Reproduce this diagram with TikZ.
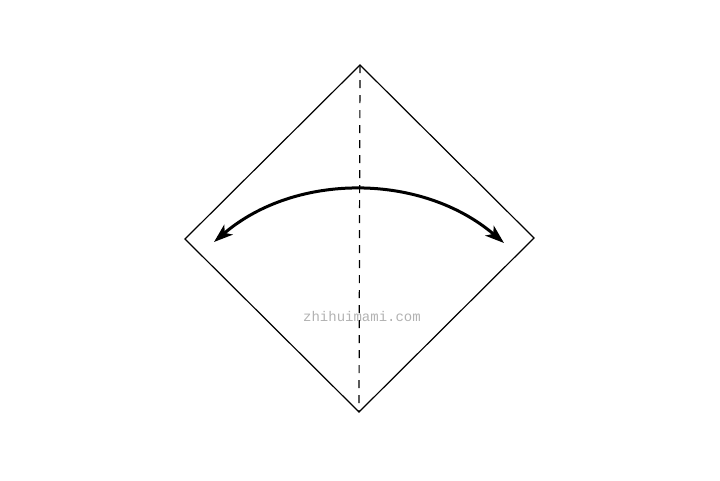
\documentclass[tikz,border=0pt]{standalone}
\usepackage{fontspec}
\newfontfamily\markfont{Liberation Mono}
\usetikzlibrary{arrows.meta}
\tikzset{
    paper/.style = {
        draw,
        line width = 1.2pt,
        line join = miter
    },
    valley/.style = {
        draw,
        line width = 1.2pt,
        dash pattern = on 8pt off 7pt
    },
    turn/.style = {
        {Stealth[length=19pt,width=13pt,inset=5pt]}-{Stealth[length=19pt,width=13pt,inset=5pt]},
        line width = 3pt
    },
    watermark/.style = {
        text = black!30,
        font = \markfont\fontsize{14}{16}\selectfont
    }
}
\begin{document}
\begin{tikzpicture}[x=1pt,y=-1pt]
    \useasboundingbox (0,0) rectangle (720,480);
    % corners of the square sheet
    \coordinate (top)    at (360,65);
    \coordinate (right)  at (534,238);
    \coordinate (bottom) at (359,412);
    \coordinate (left)   at (185,239);
    \draw[paper] (top) -- (right) -- (bottom) -- (left) -- cycle;
    % fold line
    \draw[valley] (top) -- (bottom);
    % fold over and back
    \coordinate (from) at (214,242);
    \coordinate (to)   at (504,243);
    \draw[turn] (from) .. controls (296,172) and (422,173) .. (to);
    \node[watermark] (mark) at (362,316) {zhihuimami.com};
\end{tikzpicture}
\end{document}
